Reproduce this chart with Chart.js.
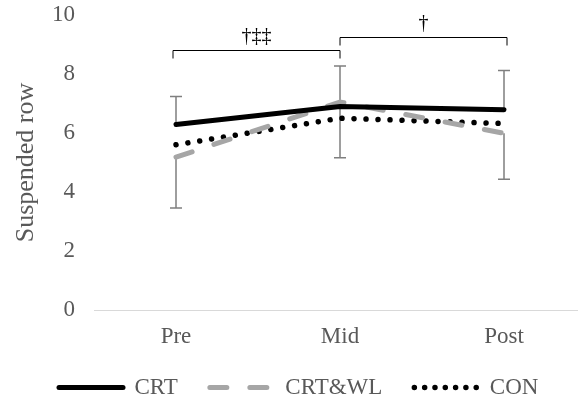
<!DOCTYPE html>
<html lang="en">
<head>
    <meta charset="UTF-8">
    <title>Suspended row</title>
    <script src="https://cdn.jsdelivr.net/npm/chart.js"></script>
    <style>
        html, body { margin: 0; padding: 0; background: #ffffff; overflow: hidden; }
        #wrap { width: 588px; height: 402px; }
    </style>
</head>
<body>
    <div id="wrap"><canvas id="rowChart" width="588" height="402"></canvas></div>
    <script>
        // data
        const timepoints = ['Pre', 'Mid', 'Post'];
        const crt = [6.29, 6.90, 6.79];
        const crtwl = [5.18, 7.05, 5.99];
        const con = [5.60, 6.50, 6.32];
        const crtSD = [0.95, 1.37, 1.33];     // drawn upward
        const crtwlSD = [1.72, 1.89, 1.56];   // drawn downward
        const yTicks = [0, 2, 4, 6, 8, 10];

        // significance brackets
        const bracketFrom = ['Pre', 'Mid'];
        const bracketTo = ['Mid', 'Post'];
        const bracketLevel = [8.83, 9.26];
        const bracketLabels = ['\u2020\u2021\u2021', '\u2020'];

        const serif = "'Liberation Serif', 'Times New Roman', serif";

        const annotations = {
            id: 'annotations',
            beforeDatasetsDraw(chart) {
                const ctx = chart.ctx;
                const x = chart.scales.x, y = chart.scales.y;
                ctx.save();
                ctx.strokeStyle = '#7f7f7f';
                ctx.lineWidth = 1.5;
                const bar = (i, from, to) => {
                    const px = x.getPixelForValue(i);
                    const y0 = y.getPixelForValue(from), y1 = y.getPixelForValue(to);
                    ctx.beginPath();
                    ctx.moveTo(px, y0); ctx.lineTo(px, y1);
                    ctx.moveTo(px - 6, y1); ctx.lineTo(px + 6, y1);
                    ctx.stroke();
                };
                timepoints.forEach((t, i) => {
                    bar(i, crt[i], crt[i] + crtSD[i]);
                    bar(i, crtwl[i], crtwl[i] - crtwlSD[i]);
                });
                ctx.restore();
            },
            afterDatasetsDraw(chart) {
                const ctx = chart.ctx;
                const x = chart.scales.x, y = chart.scales.y;
                ctx.save();
                ctx.strokeStyle = '#000000';
                ctx.lineWidth = 1;
                ctx.fillStyle = '#000000';
                ctx.font = '20px ' + serif;
                ctx.textAlign = 'center';
                ctx.textBaseline = 'bottom';
                bracketLabels.forEach((lab, i) => {
                    const x0 = x.getPixelForValue(timepoints.indexOf(bracketFrom[i])) - (i === 0 ? 3 : 0);
                    const x1 = x.getPixelForValue(timepoints.indexOf(bracketTo[i])) + (i === 1 ? 3 : 0);
                    const top = Math.round(y.getPixelForValue(bracketLevel[i])) + 0.5;
                    ctx.beginPath();
                    ctx.moveTo(x0, top + 8); ctx.lineTo(x0, top);
                    ctx.lineTo(x1, top); ctx.lineTo(x1, top + 8);
                    ctx.stroke();
                    ctx.fillText(lab, (x0 + x1) / 2, top - 4);
                });
                ctx.restore();
            }
        };

        new Chart(document.getElementById('rowChart'), {
            type: 'line',
            data: {
                labels: timepoints,
                datasets: [{
                    label: 'CRT',
                    data: crt,
                    borderColor: '#000000',
                    backgroundColor: '#000000',
                    borderWidth: 5,
                    borderCapStyle: 'round',
                    pointRadius: 0
                }, {
                    label: 'CRT&WL',
                    data: crtwl,
                    borderColor: '#a6a6a6',
                    backgroundColor: '#a6a6a6',
                    borderWidth: 5,
                    borderDash: [17, 23],
                    borderCapStyle: 'round',
                    pointRadius: 0
                }, {
                    label: 'CON',
                    data: con,
                    borderColor: '#000000',
                    backgroundColor: '#000000',
                    borderWidth: 5.5,
                    borderDash: [0.01, 12],
                    borderCapStyle: 'round',
                    pointRadius: 0
                }]
            },
            options: {
                responsive: false,
                animation: false,
                layout: { padding: { left: 27, top: 15, right: 2, bottom: -7 } },
                scales: {
                    x: {
                        offset: true,
                        grid: { display: false, drawTicks: false, offset: true },
                        border: { display: true, color: '#d9d9d9', width: 1 },
                        ticks: { color: '#595959', padding: 13, font: { family: serif, size: 23 } },
                        afterFit: s => { s.height = 34; }
                    },
                    y: {
                        min: 0,
                        max: 10,
                        afterBuildTicks: s => { s.ticks = yTicks.map(v => ({ value: v })); },
                        grid: { display: false, drawTicks: false },
                        border: { display: false },
                        ticks: { color: '#595959', padding: 19, font: { family: serif, size: 23 } },
                        title: {
                            display: true,
                            text: 'Suspended row',
                            color: '#595959',
                            padding: { top: -16, bottom: 0 },
                            font: { family: serif, size: 26 }
                        },
                        afterFit: s => { s.width = 67; s.paddingTop = 0; s.paddingBottom = 0; }
                    }
                },
                plugins: {
                    legend: {
                        position: 'bottom',
                        align: 'start',
                        labels: {
                            usePointStyle: true,
                            pointStyle: 'line',
                            pointStyleWidth: 64,
                            padding: 32,
                            color: '#595959',
                            font: { family: serif, size: 23 },
                            generateLabels: chart => {
                                const items = Chart.defaults.plugins.legend.labels.generateLabels(chart);
                                items.forEach(it => {
                                    const ds = chart.data.datasets[it.datasetIndex];
                                    it.pointStyle = 'line';
                                    it.strokeStyle = ds.borderColor;
                                    it.lineWidth = ds.borderWidth;
                                    it.lineDash = it.datasetIndex === 2 ? [0.01, 10.3] : (ds.borderDash || []);
                                    it.lineCap = ds.borderCapStyle;
                                });
                                return items;
                            }
                        }
                    },
                    tooltip: { enabled: false }
                }
            },
            plugins: [annotations]
        });
    </script>
</body>
</html>
